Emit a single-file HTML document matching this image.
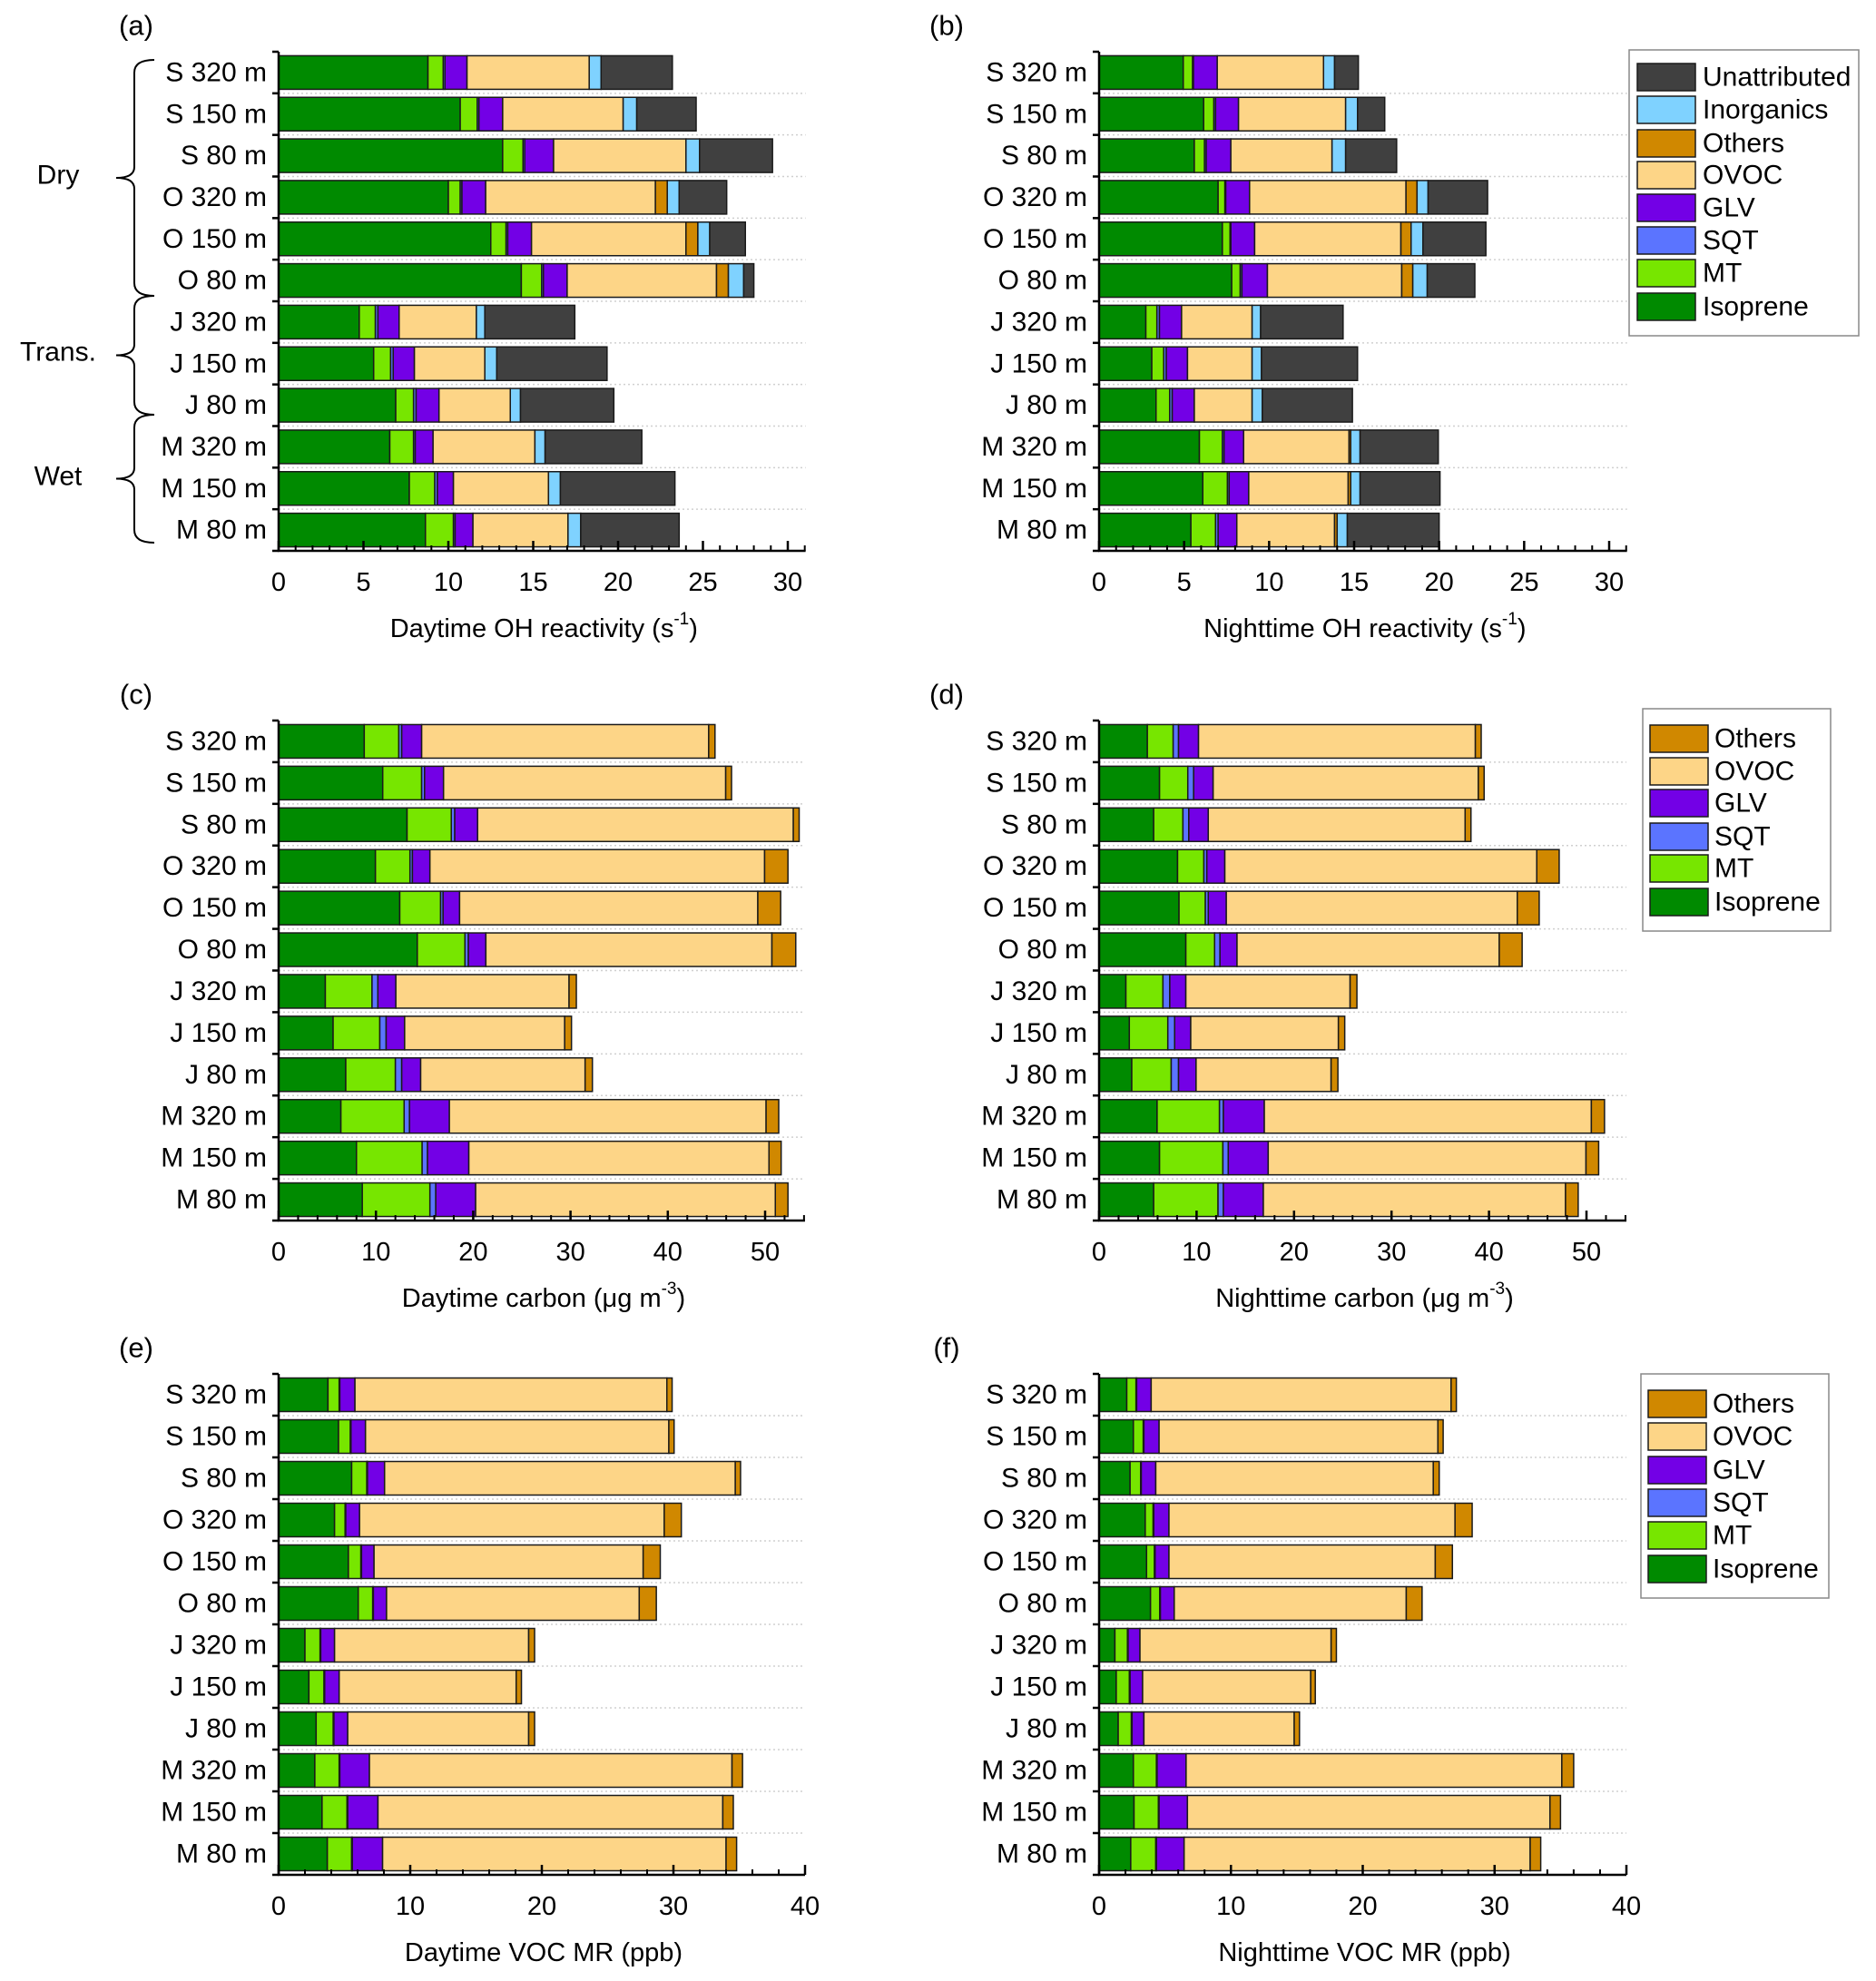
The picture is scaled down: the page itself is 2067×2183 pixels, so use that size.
<!DOCTYPE html>
<html><head><meta charset="utf-8">
<style>
html,body{margin:0;padding:0;background:#fff;}
svg{display:block;font-family:"Liberation Sans","DejaVu Sans",sans-serif;}
</style></head>
<body>
<svg id="fig" width="2067" height="2183" viewBox="0 0 2067 2183" xmlns="http://www.w3.org/2000/svg"></svg>
<script>
const categories = ["S 320 m","S 150 m","S 80 m","O 320 m","O 150 m","O 80 m","J 320 m","J 150 m","J 80 m","M 320 m","M 150 m","M 80 m"];
// Panel a: daytime OH reactivity
const aIso = [8.8,10.7,13.2,10.0,12.5,14.3,4.75,5.6,6.9,6.55,7.7,8.65];
const aMT = [0.9,1.0,1.2,0.7,0.9,1.2,0.95,1.0,1.05,1.4,1.5,1.65];
const aSQT = [0.1,0.1,0.1,0.1,0.1,0.1,0.15,0.15,0.15,0.1,0.15,0.1];
const aGLV = [1.3,1.4,1.7,1.4,1.4,1.4,1.25,1.25,1.35,1.05,0.95,1.05];
const aOVOC = [7.2,7.1,7.8,10.0,9.1,8.8,4.55,4.15,4.2,6.0,5.6,5.6];
const aOthers = [0,0,0,0.7,0.7,0.7,0,0,0,0,0,0];
const aInorg = [0.7,0.8,0.8,0.7,0.7,0.9,0.5,0.7,0.6,0.6,0.7,0.75];
const aUnatt = [4.2,3.5,4.3,2.8,2.1,0.6,5.3,6.5,5.5,5.7,6.75,5.8];
// Panel b: nighttime OH reactivity
const bIso = [4.95,6.15,5.6,7.0,7.25,7.8,2.75,3.1,3.35,5.9,6.1,5.4];
const bMT = [0.55,0.6,0.6,0.4,0.45,0.5,0.65,0.7,0.8,1.35,1.45,1.45];
const bSQT = [0.05,0.1,0.1,0.05,0.05,0.1,0.15,0.15,0.15,0.1,0.1,0.15];
const bGLV = [1.4,1.35,1.45,1.4,1.4,1.5,1.3,1.25,1.3,1.15,1.15,1.1];
const bOVOC = [6.25,6.3,5.95,9.2,8.6,7.9,4.15,3.8,3.4,6.2,5.85,5.75];
const bOthers = [0,0,0,0.65,0.6,0.65,0,0,0,0.1,0.15,0.15];
const bInorg = [0.65,0.7,0.8,0.65,0.7,0.85,0.5,0.55,0.6,0.55,0.55,0.6];
const bUnatt = [1.4,1.6,3.0,3.5,3.7,2.8,4.85,5.65,5.3,4.6,4.7,5.4];
// Panel c: daytime carbon
const cIso = [8.8,10.7,13.2,9.95,12.45,14.25,4.8,5.6,6.9,6.4,8.0,8.6];
const cMT = [3.55,4.0,4.55,3.55,4.2,4.9,4.8,4.8,5.1,6.5,6.75,6.95];
const cSQT = [0.3,0.3,0.35,0.25,0.25,0.35,0.6,0.65,0.65,0.55,0.55,0.6];
const cGLV = [2.05,1.95,2.35,1.8,1.7,1.8,1.85,1.9,1.95,4.1,4.25,4.1];
const cOVOC = [29.5,29.0,32.45,34.4,30.65,29.4,17.8,16.45,16.9,32.55,30.85,30.8];
const cOthers = [0.65,0.6,0.6,2.4,2.35,2.45,0.75,0.7,0.75,1.3,1.25,1.3];
// Panel d: nighttime carbon
const dIso = [4.95,6.2,5.6,8.05,8.2,8.9,2.75,3.1,3.35,5.95,6.2,5.6];
const dMT = [2.65,2.9,3.0,2.7,2.7,2.95,3.8,3.95,4.05,6.4,6.5,6.6];
const dSQT = [0.55,0.6,0.6,0.3,0.3,0.55,0.7,0.7,0.75,0.4,0.55,0.55];
const dGLV = [2.05,2.0,2.0,1.85,1.85,1.75,1.65,1.65,1.8,4.2,4.1,4.1];
const dOVOC = [28.4,27.2,26.35,32.0,29.85,26.9,16.85,15.15,13.85,33.55,32.6,31.0];
const dOthers = [0.6,0.6,0.6,2.3,2.25,2.35,0.7,0.65,0.7,1.35,1.3,1.3];
// Panel e: daytime VOC MR
const eIso = [3.75,4.55,5.55,4.25,5.3,6.05,2.0,2.3,2.85,2.75,3.3,3.7];
const eMT = [0.85,0.9,1.15,0.8,0.95,1.1,1.15,1.15,1.3,1.85,1.9,1.85];
const eSQT = [0.05,0.05,0.05,0.05,0.05,0.05,0.05,0.05,0.05,0.05,0.05,0.05];
const eGLV = [1.15,1.1,1.3,1.05,0.95,1.0,1.05,1.1,1.05,2.25,2.3,2.3];
const eOVOC = [23.7,23.05,26.65,23.15,20.45,19.2,14.75,13.45,13.75,27.55,26.2,26.1];
const eOthers = [0.4,0.4,0.4,1.3,1.3,1.3,0.45,0.4,0.45,0.8,0.8,0.8];
// Panel f: nighttime VOC MR
const fIso = [2.1,2.6,2.35,3.5,3.6,3.9,1.2,1.3,1.45,2.6,2.65,2.4];
const fMT = [0.7,0.75,0.8,0.6,0.6,0.7,0.95,1.0,1.0,1.75,1.85,1.9];
const fSQT = [0.05,0.05,0.05,0.05,0.05,0.05,0.05,0.05,0.05,0.05,0.05,0.05];
const fGLV = [1.1,1.15,1.1,1.15,1.05,1.05,0.9,0.95,0.9,2.2,2.15,2.1];
const fOVOC = [22.75,21.15,21.05,21.7,20.2,17.6,14.5,12.75,11.4,28.5,27.5,26.25];
const fOthers = [0.4,0.4,0.45,1.3,1.3,1.2,0.4,0.35,0.4,0.9,0.8,0.8];
const ohTicks = [0,5,10,15,20,25,30];
const carbonTicks = [0,10,20,30,40,50];
const mrTicks = [0,10,20,30,40];

const COL = {Isoprene:"#008a00",MT:"#77e600",SQT:"#5b74ff",GLV:"#7300e6",OVOC:"#fdd587",Others:"#d08800",Inorganics:"#7fd2ff",Unattributed:"#404040"};
const NS = "http://www.w3.org/2000/svg";
const svg = document.getElementById("fig");
function mk(tag, attrs, parent){
  const e = document.createElementNS(NS, tag);
  for (const k in attrs) e.setAttribute(k, attrs[k]);
  (parent||svg).appendChild(e);
  return e;
}
function txt(s, x, y, size, anchor, parent){
  const t = mk("text", {x:x, y:y, "font-size":size, "text-anchor":anchor||"middle", "dominant-baseline":"central", fill:"#000"}, parent);
  t.textContent = s;
  return t;
}

function panel(id, x0, x1, top, bottom, maxV, axisEnd, ticks, minorStep, series, title, letter, letterX){
  const g = mk("g", {});
  
  
  const sx = v => x0 + (v/maxV)*(x1-x0);
  const xEnd = sx(axisEnd);
  const rowH = (bottom-top)/categories.length;
  // gridlines
  for (let i=1;i<categories.length;i++){
    const y = top + i*rowH;
    const gl = mk("line", {x1:x0, x2:xEnd, y1:y, y2:y, stroke:"#d0d0d0", "stroke-width":1.5, "stroke-dasharray":"2,3"}, g);
    
    
  }
  // bars
  categories.forEach((c, i) => {
    const cy = top + (i+0.5)*rowH;
    const bh = 37;
    let acc = 0;
    series.forEach(s => {
      const v = s[1][i];
      if (v > 0){
        const r = mk("rect", {x:sx(acc), y:cy-bh/2, width:Math.max(0.5, sx(acc+v)-sx(acc)), height:bh, fill:COL[s[0]], stroke:"#1a1a1a", "stroke-width":1.5}, g);
        
        
      }
      acc += v;
    });
    const lab = txt(c, x0-13, cy, 30, "end", g);
    
    
    const yt = mk("line", {x1:x0-7, x2:x0, y1:top+i*rowH, y2:top+i*rowH, stroke:"#000", "stroke-width":2.5}, g);
    
    
  });
  const yt2 = mk("line", {x1:x0-7, x2:x0, y1:bottom, y2:bottom, stroke:"#000", "stroke-width":2.5}, g);
  
  
  // axes
  const ya = mk("line", {x1:x0, x2:x0, y1:top, y2:bottom, stroke:"#000", "stroke-width":2.5}, g);
  
  
  const xa = mk("line", {x1:x0-1, x2:xEnd, y1:bottom, y2:bottom, stroke:"#000", "stroke-width":2.5}, g);
  
  
  for (let v=0; v<=axisEnd+1e-6; v+=minorStep){
    const mt = mk("line", {x1:sx(v), x2:sx(v), y1:bottom, y2:bottom-6, stroke:"#000", "stroke-width":2}, g);
    
    
  }
  ticks.forEach(t => {
    const tk = mk("line", {x1:sx(t), x2:sx(t), y1:bottom, y2:bottom-11, stroke:"#000", "stroke-width":2.5}, g);
    
    
    const tl = txt(String(t), sx(t), bottom+35, 29, "middle", g);
    
    
  });
  const tt = mk("text", {x:(x0+xEnd)/2+2, y:bottom+86, "font-size":29, "text-anchor":"middle", "dominant-baseline":"central"}, g);
  tt.innerHTML = title;
  
  
  const lt = txt(letter, letterX, top-29, 31, "middle", g);
  
  
}

const reactUnit = 'OH reactivity (s<tspan font-size="19" dy="-11">-1</tspan><tspan dy="11">)</tspan>';
const carbUnit = 'carbon (μg m<tspan font-size="19" dy="-11">-3</tspan><tspan dy="11">)</tspan>';

panel("a", 307, 868, 57, 607, 30, 31.05, ohTicks, 1,
  [["Isoprene",aIso],["MT",aMT],["SQT",aSQT],["GLV",aGLV],["OVOC",aOVOC],["Others",aOthers],["Inorganics",aInorg],["Unattributed",aUnatt]],
  "Daytime " + reactUnit, "(a)", 150);
panel("b", 1211, 1773, 57, 607, 30, 31.05, ohTicks, 1,
  [["Isoprene",bIso],["MT",bMT],["SQT",bSQT],["GLV",bGLV],["OVOC",bOVOC],["Others",bOthers],["Inorganics",bInorg],["Unattributed",bUnatt]],
  "Nighttime " + reactUnit, "(b)", 1043);
panel("c", 307, 843, 794, 1345, 50, 54.1, carbonTicks, 2,
  [["Isoprene",cIso],["MT",cMT],["SQT",cSQT],["GLV",cGLV],["OVOC",cOVOC],["Others",cOthers]],
  "Daytime " + carbUnit, "(c)", 150);
panel("d", 1211, 1748, 794, 1345, 50, 54.1, carbonTicks, 2,
  [["Isoprene",dIso],["MT",dMT],["SQT",dSQT],["GLV",dGLV],["OVOC",dOVOC],["Others",dOthers]],
  "Nighttime " + carbUnit, "(d)", 1043);
panel("e", 307, 887, 1514, 2066, 40, 40, mrTicks, 2,
  [["Isoprene",eIso],["MT",eMT],["SQT",eSQT],["GLV",eGLV],["OVOC",eOVOC],["Others",eOthers]],
  "Daytime VOC MR (ppb)", "(e)", 150);
panel("f", 1211, 1792, 1514, 2066, 40, 40, mrTicks, 2,
  [["Isoprene",fIso],["MT",fMT],["SQT",fSQT],["GLV",fGLV],["OVOC",fOVOC],["Others",fOthers]],
  "Nighttime VOC MR (ppb)", "(f)", 1043);

// Legends
function legend(id, bx, by, bw, bh, names, ys, swX, swW, textX){
  const g = mk("g", {});
  
  
  mk("rect", {x:bx, y:by, width:bw, height:bh, fill:"#fff", stroke:"#888", "stroke-width":1.5}, g);
  names.forEach((n, i) => {
    const sw = mk("rect", {x:swX, y:ys[i]-15, width:swW, height:30, fill:COL[n], stroke:"#1a1a1a", "stroke-width":1.5}, g);
    
    
    const t = txt(n, textX, ys[i], 30, "start", g);
    
    
  });
}
legend("b", 1795, 55, 253, 315, ["Unattributed","Inorganics","Others","OVOC","GLV","SQT","MT","Isoprene"],
  [85,121,158,193,229,265,301,338], 1804, 64, 1876);
legend("d", 1810, 781, 207, 245, ["Others","OVOC","GLV","SQT","MT","Isoprene"],
  [814,850,885,922,957,994], 1818, 64, 1889);
legend("f", 1808, 1514, 207, 247, ["Others","OVOC","GLV","SQT","MT","Isoprene"],
  [1547,1583,1620,1656,1692,1729], 1816, 64, 1887);

// Season groups with braces
function brace(name, label, y1, y2, ly){
  const g = mk("g", {});
  
  
  const xb = 148, xt = 128, xr = 170, ym = (y1+y2)/2;
  const d = `M ${xr} ${y1} Q ${xb} ${y1} ${xb} ${y1+14} L ${xb} ${ym-12} Q ${xb} ${ym} ${xt} ${ym} Q ${xb} ${ym} ${xb} ${ym+12} L ${xb} ${y2-14} Q ${xb} ${y2} ${xr} ${y2}`;
  const p = mk("path", {d:d, fill:"none", stroke:"#000", "stroke-width":2}, g);
  
  
  const t = txt(label, 64, ly, 30, "middle", g);
  
  
}
brace("dry", "Dry", 66, 326, 193);
brace("trans", "Trans.", 326, 457, 388);
brace("wet", "Wet", 457, 598, 525);
</script>
</body></html>
